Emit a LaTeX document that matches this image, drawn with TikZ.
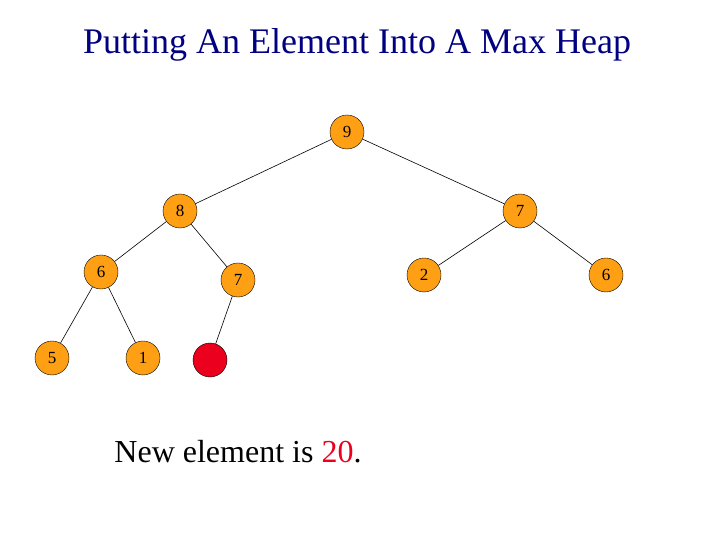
\documentclass[tikz,border=0pt]{standalone}
\usepackage{fontspec}
\setmainfont{Liberation Serif}
\definecolor{heap}{RGB}{255,160,20}
\definecolor{newred}{RGB}{235,0,30}
\definecolor{title}{RGB}{0,0,128}
\begin{document}
\begin{tikzpicture}[x=1pt,y=1pt,
  hn/.style={circle,draw=black,fill=heap,minimum size=34pt,inner sep=0pt,font=\fontsize{17}{19}\selectfont},
  edge/.style={draw=black,line width=0.6pt}]
\useasboundingbox (0,0) rectangle (720,540);
\node[text=title,font=\fontsize{36}{40}\selectfont] (t) at (357,495) {Putting An Element Into A Max Heap};
\node[hn] (a) at (347,408) {9};
\node[hn] (b) at (180,329) {8};
\node[hn] (c) at (520,329) {7};
\node[hn] (d) at (101,268) {6};
\node[hn] (e) at (238,260) {7};
\node[hn] (f) at (424,265) {2};
\node[hn] (g) at (606,265) {6};
\node[hn] (h) at (52,182) {5};
\node[hn] (i) at (143,182) {1};
\node[hn,fill=newred] (j) at (210,180) {};
\draw[edge] (a)--(b); \draw[edge] (a)--(c);
\draw[edge] (b)--(d); \draw[edge] (b)--(e);
\draw[edge] (c)--(f); \draw[edge] (c)--(g);
\draw[edge] (d)--(h); \draw[edge] (d)--(i);
\draw[edge] (e)--(j);
\node[font=\fontsize{32}{36}\selectfont] (n) at (238,88) {New element is \textcolor{newred}{20}.};
\end{tikzpicture}
\end{document}
